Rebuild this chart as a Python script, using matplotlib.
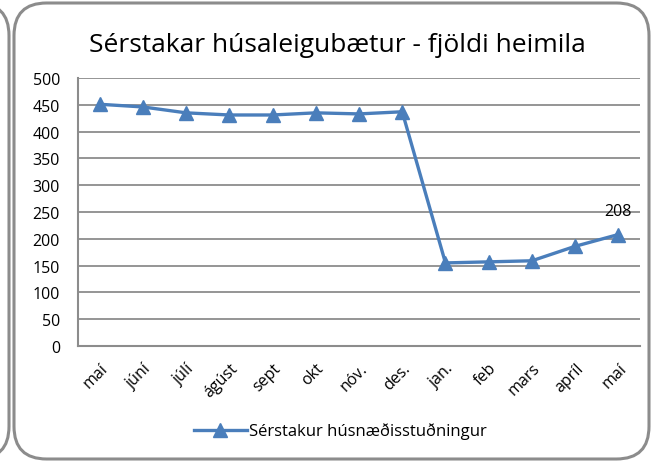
import matplotlib
matplotlib.use("Agg")
import matplotlib.pyplot as plt
from matplotlib.patches import FancyBboxPatch

months = ["maí", "júní", "júlí", "ágúst", "sept", "okt", "nóv.", "des.",
          "jan.", "feb", "mars", "apríl", "maí"]
values = [451, 446, 435, 431, 431, 435, 433, 437, 155, 157, 159, 186, 208]
series_name = "Sérstakur húsnæðisstuðningur"
title = "Sérstakar húsaleigubætur - fjöldi heimila"

plt.rcParams['font.family'] = ['Open Sans', 'DejaVu Sans']
color = "#4a7ebb"
grid_color = "#8c8c8c"

fig = plt.figure(figsize=(6.52, 4.64), dpi=100)
W, H = 652, 464

# chart frame + edge of the neighbouring chart on the left
frame = FancyBboxPatch((14 / W, 4 / H), 635 / W, 456 / H,
                       boxstyle="round,pad=0,rounding_size=0.05",
                       transform=fig.transFigure, fill=False,
                       edgecolor="#8c8c8c", linewidth=2.2, mutation_aspect=W / H)
fig.patches.append(frame)
left = FancyBboxPatch((-40 / W, 4 / H), 49 / W, 456 / H,
                      boxstyle="round,pad=0,rounding_size=0.05",
                      transform=fig.transFigure, fill=False,
                      edgecolor="#8c8c8c", linewidth=2.2, mutation_aspect=W / H)
fig.patches.append(left)

ax = fig.add_axes([78 / W, 1 - 347 / H, (640 - 78) / W, (347 - 79) / H])
x = range(len(months))
ax.plot(x, values, color=color, linewidth=2.4, marker="^", markersize=10,
        label=series_name)
ax.annotate(str(values[-1]), (len(values) - 1, values[-1]),
            xytext=(0, 11), textcoords="offset points", ha="center",
            va="bottom", fontsize=11.5)

ax.set_xlim(-0.5, len(months) - 0.5)
ax.set_ylim(0, 500)
ax.set_yticks(range(0, 501, 50))
ax.set_xticks(list(x))
ax.set_xticklabels(months, rotation=45, ha="right", rotation_mode="anchor",
                   fontsize=11.5)
ax.tick_params(axis="y", labelsize=11.5, length=0, pad=13)
ax.tick_params(axis="x", length=0, pad=10)
ax.grid(axis="y", color=grid_color, linewidth=1.3)
ax.set_axisbelow(True)
for s in ["top", "right"]:
    ax.spines[s].set_visible(False)
for s in ["left", "bottom"]:
    ax.spines[s].set_color(grid_color)
    ax.spines[s].set_linewidth(1.5)

fig.text(337 / W, 1 - 46 / H, title, ha="center", va="center", fontsize=19)
fig.legend(loc="center", bbox_to_anchor=(340 / W, 1 - 432 / H), frameon=False,
           fontsize=12, handlelength=3.2, handletextpad=0.1)

fig.savefig("out.png", dpi=100)
